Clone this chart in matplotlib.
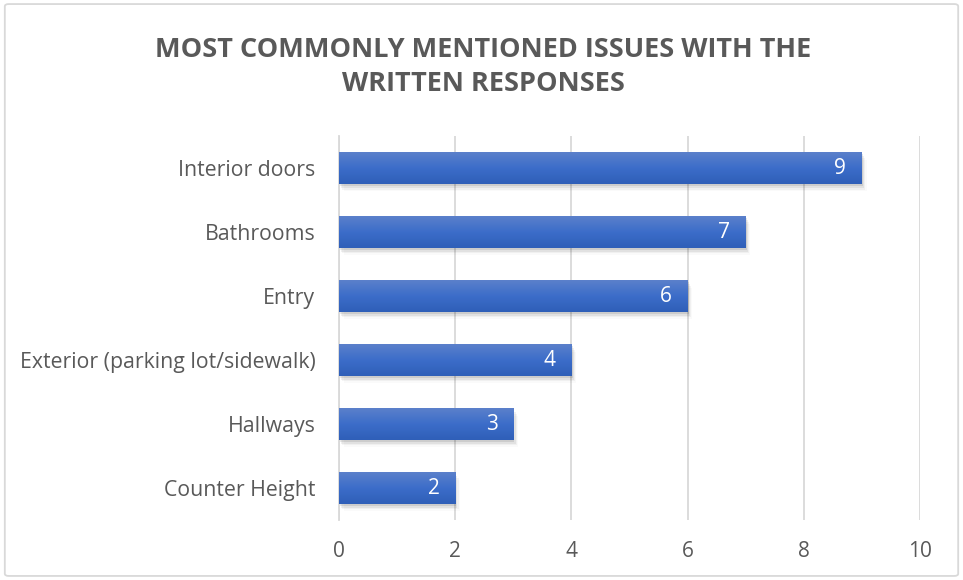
import numpy as np
import matplotlib
matplotlib.use("Agg")
import matplotlib.pyplot as plt
from matplotlib.colors import LinearSegmentedColormap
from matplotlib.patches import FancyBboxPatch

categories = [
    "Interior doors",
    "Bathrooms",
    "Entry",
    "Exterior (parking lot/sidewalk)",
    "Hallways",
    "Counter Height",
]
counts = [9, 7, 6, 4, 3, 2]
x_ticks = [0, 2, 4, 6, 8, 10]

TITLE = "MOST COMMONLY MENTIONED ISSUES WITH THE\nWRITTEN RESPONSES"
TEXT_GRAY = "#595959"
GRID_GRAY = "#d9d9d9"

plt.rcParams["font.family"] = ["Open Sans", "DejaVu Sans"]

fig = plt.figure(figsize=(9.63, 5.8), dpi=100)

# outer chart frame
frame = FancyBboxPatch((0.005, 0.007), 0.99, 0.986,
                       boxstyle="round,pad=0,rounding_size=0.004",
                       transform=fig.transFigure, facecolor="none",
                       edgecolor=GRID_GRAY, linewidth=1.3, zorder=-1)
fig.patches.append(frame)

ax = fig.add_axes([0.352, 0.1034, 0.6033, 0.662])
ax.set_facecolor("none")

y = np.arange(len(categories))[::-1]
bar_h = 0.49

grad = LinearSegmentedColormap.from_list("bar", ["#2f5fb8", "#3c6dc9", "#5b80cb"])
gradient = np.linspace(0, 1, 64).reshape(-1, 1)

bars = ax.barh(y, counts, height=bar_h, color="none", edgecolor="none", zorder=3)
for b, v in zip(bars, counts):
    x0, y0 = b.get_x(), b.get_y()
    w, h = b.get_width(), b.get_height()
    # soft drop shadow, a few stacked translucent layers
    for k, a in enumerate([0.09, 0.06, 0.04, 0.02]):
        d = 0.02 * (k + 1)
        ax.add_patch(plt.Rectangle((x0 + d, y0 - 1.5 * d), w, h,
                                   facecolor="black", alpha=a,
                                   edgecolor="none", zorder=2))
    im = ax.imshow(gradient, cmap=grad, aspect="auto", origin="lower",
                   extent=(x0, x0 + w, y0, y0 + h), zorder=3)
    im.set_clip_path(b)
    ax.text(v - 0.27, y0 + h / 2, str(v), color="white", fontsize=15,
            ha="right", va="center", zorder=4)

ax.set_xlim(0, 10)
ax.set_ylim(-0.5, len(categories) - 0.5)
ax.set_xticks(x_ticks)
ax.set_yticks(y)
ax.set_yticklabels(categories)
ax.grid(axis="x", color=GRID_GRAY, linewidth=1.3, zorder=1)
ax.set_axisbelow(True)
for side in ["top", "right", "bottom"]:
    ax.spines[side].set_visible(False)
ax.spines["left"].set_color(GRID_GRAY)
ax.spines["left"].set_linewidth(1.3)
ax.tick_params(axis="x", length=0, pad=15, labelsize=15, labelcolor=TEXT_GRAY)
ax.tick_params(axis="y", length=0, pad=17, labelsize=15.3, labelcolor=TEXT_GRAY)

fig.text(0.502, 0.885, TITLE, ha="center", va="center", fontsize=19.5,
         fontweight="bold", color=TEXT_GRAY, linespacing=1.4)

fig.savefig("out.png", dpi=100)
